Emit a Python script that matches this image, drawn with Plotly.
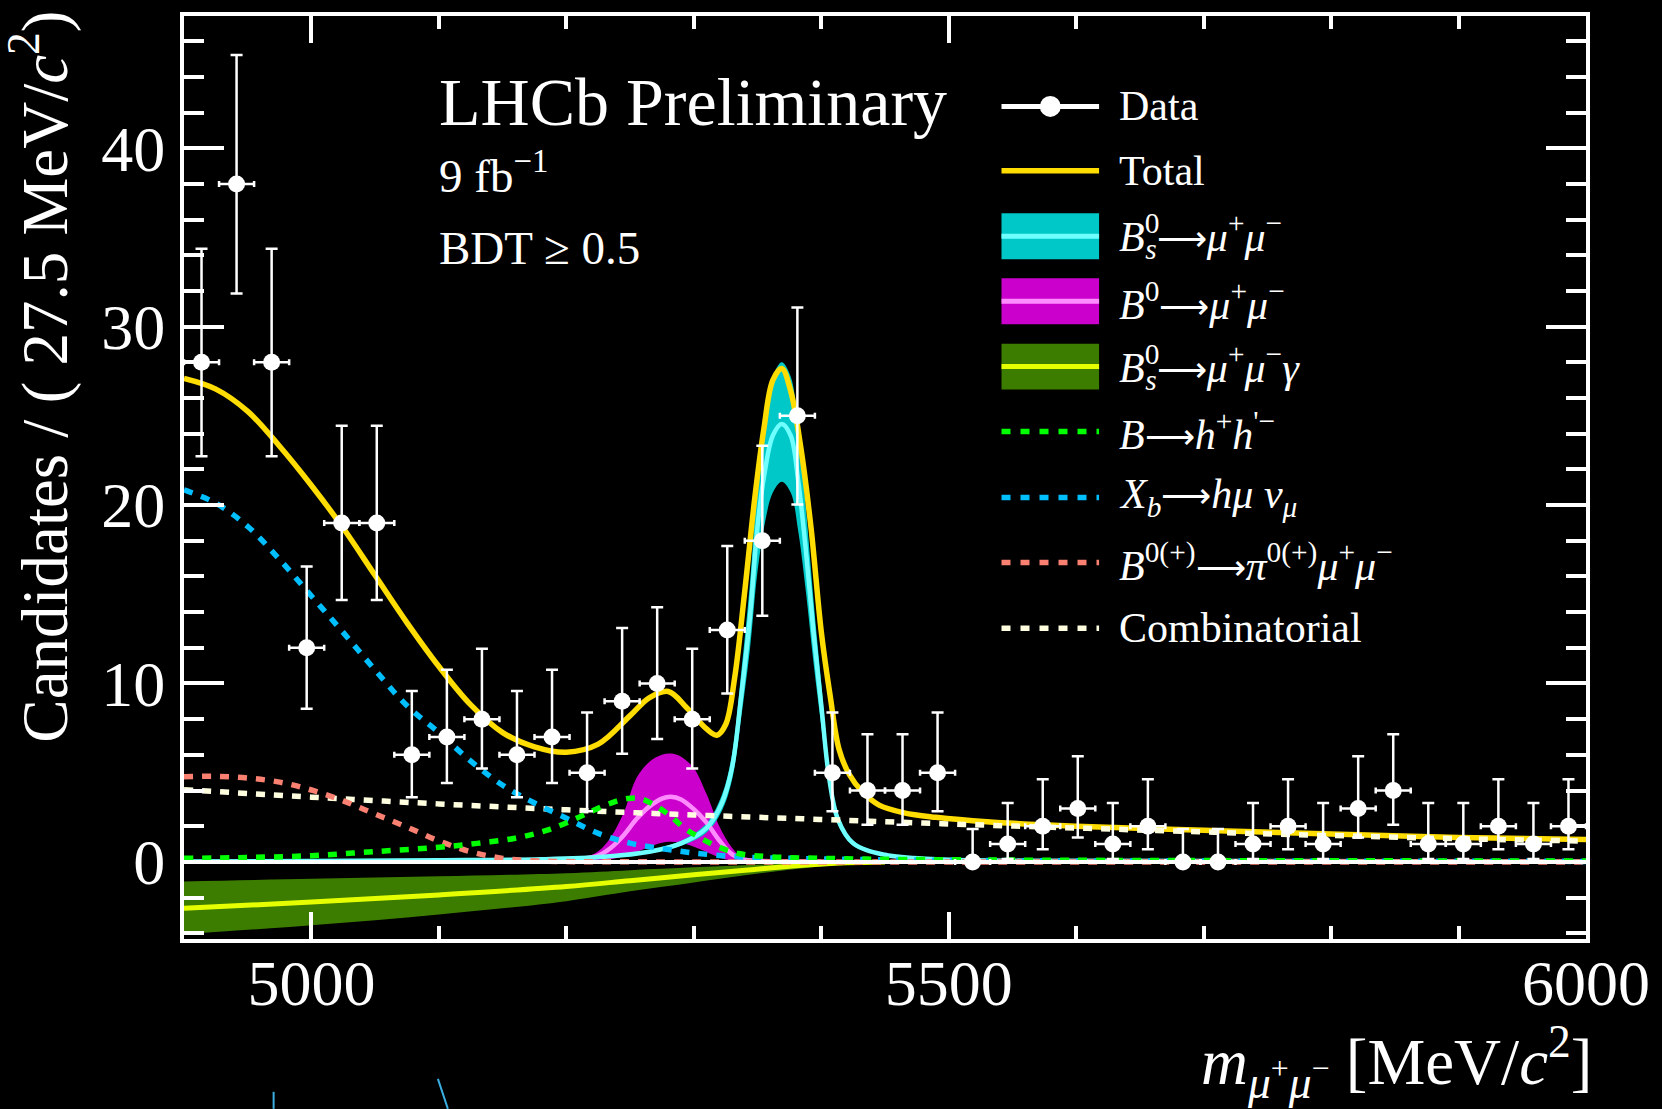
import plotly.graph_objects as go

# ---------------- data ----------------
BIN_LO = 4900.0
BIN_W = 27.5
counts = [28, 38, 28, 12, 19, 19, 6, 7, 8, 6, 7, 5, 9, 10, 8, 13, 18, 25, 5, 4,
          4, 5, 0, 1, 2, 3, 1, 2, 0, 0, 1, 2, 1, 3, 4, 1, 1, 2, 1, 2]
err_hi = [6.36, 7.22, 6.36, 4.56, 5.44, 5.44, 3.58, 3.77, 3.95, 3.58, 3.77, 3.38, 4.11, 4.27,
          3.95, 4.70, 5.32, 6.07, 3.38, 3.16, 3.16, 3.38, 1.84, 2.30, 2.64, 2.92, 2.30, 2.64,
          1.84, 1.84, 2.30, 2.64, 2.30, 2.92, 3.16, 2.30, 2.30, 2.64, 2.30, 2.64]
err_lo = [5.27, 6.14, 5.27, 3.41, 4.32, 4.32, 2.38, 2.58, 2.77, 2.38, 2.58, 2.16, 2.94, 3.11,
          2.77, 3.56, 4.20, 4.97, 2.16, 1.91, 1.91, 2.16, 0.00, 0.83, 1.29, 1.63, 0.83, 1.29,
          0.00, 0.00, 0.83, 1.29, 0.83, 1.63, 1.91, 0.83, 0.83, 1.29, 0.83, 1.29]
centers = [BIN_LO + BIN_W * (i + 0.5) for i in range(len(counts))]

total_x = [4900, 4925, 4950, 4975, 5000, 5025, 5050, 5075, 5100, 5125, 5150, 5175, 5200, 5225,
           5250, 5265, 5280, 5295, 5310, 5318, 5325, 5332, 5340, 5348, 5355, 5362, 5369, 5376,
           5384, 5392, 5400, 5407, 5414, 5422, 5432, 5445, 5465, 5490, 5530, 5600, 5700, 5800,
           5900, 6000]
total_y = [27.1, 26.5, 25.25, 23.3, 21.1, 18.7, 16.05, 13.4, 10.95, 8.8, 7.25, 6.45, 6.15, 6.6,
           8.2, 9.2, 9.55, 8.6, 7.45, 7.1, 7.7, 10.3, 15.2, 20.5, 24.3, 27.0, 27.65, 26.4,
           23.2, 18.7, 12.9, 9.3, 6.3, 4.9, 3.95, 3.2, 2.75, 2.5, 2.25, 2.0, 1.77, 1.56,
           1.37, 1.25]

bs_x = [4900, 5000, 5100, 5180, 5230, 5265, 5290, 5310, 5322, 5330, 5337, 5344, 5350, 5356,
        5362, 5369, 5376, 5382, 5388, 5394, 5400, 5406, 5413, 5425, 5450, 5490, 5600, 6000]
bs_mid = [0.03, 0.05, 0.09, 0.15, 0.29, 0.57, 1.04, 1.9, 3.3, 5.3, 9.2, 13.7, 18.8, 22.0,
          23.9, 24.55, 23.9, 21.3, 17.4, 12.8, 8.8, 4.8, 2.4, 1.05, 0.4, 0.15, 0.06, 0.02]
bs_hi = [0.03, 0.06, 0.1, 0.17, 0.33, 0.65, 1.19, 2.17, 3.76, 6.04, 10.5, 15.6, 21.4, 25.1,
         27.2, 28.0, 27.2, 24.3, 19.8, 14.6, 10.0, 5.5, 2.7, 1.2, 0.46, 0.17, 0.07, 0.02]
bs_lo = [0.03, 0.04, 0.08, 0.13, 0.25, 0.49, 0.9, 1.65, 2.86, 4.6, 8.0, 11.9, 16.3, 19.1,
         20.7, 21.3, 20.7, 18.5, 15.1, 11.1, 7.6, 4.2, 2.1, 0.91, 0.35, 0.13, 0.05, 0.02]

b0_x = [5180, 5200, 5215, 5225, 5235, 5245, 5255, 5265, 5275, 5282, 5290, 5300, 5310, 5320,
        5330, 5340, 5360, 5400]
b0_mid = [0.04, 0.1, 0.2, 0.36, 0.8, 1.5, 2.4, 3.1, 3.55, 3.65, 3.5, 2.95, 2.2, 1.2, 0.42,
          0.12, 0.04, 0.02]
b0_hi = [0.06, 0.15, 0.28, 0.6, 1.4, 2.75, 4.7, 5.6, 6.0, 6.07, 5.9, 5.25, 3.8, 2.0, 0.8,
         0.15, 0.05, 0.02]
b0_lo = [0.0, 0.0, 0.0, 0.05, 0.15, 0.3, 0.55, 0.85, 1.08, 1.13, 1.07, 0.85, 0.55, 0.25, 0.07,
         0.02, 0.0, 0.0]

bsg_x = [4900, 5000, 5100, 5200, 5250, 5300, 5340, 5380, 5420, 5450]
bsg_mid = [-2.6, -2.25, -1.85, -1.38, -1.05, -0.72, -0.47, -0.22, -0.05, 0.0]
bsg_hi = [-1.1, -0.95, -0.8, -0.63, -0.46, -0.3, -0.18, -0.08, -0.02, 0.0]
bsg_lo = [-4.05, -3.55, -2.95, -2.2, -1.65, -1.15, -0.75, -0.4, -0.1, 0.0]

bhh_x = [4900, 4950, 5000, 5050, 5100, 5130, 5160, 5185, 5205, 5220, 5235, 5248, 5258, 5270,
         5282, 5293, 5306, 5319, 5335, 5360, 5400, 5500, 6000]
bhh_y = [0.2, 0.25, 0.35, 0.58, 0.82, 1.04, 1.33, 1.78, 2.35, 2.85, 3.3, 3.55, 3.55, 3.15,
         2.55, 1.87, 1.31, 0.85, 0.47, 0.29, 0.2, 0.12, 0.05]

xb_x = [4900, 4925, 4950, 4975, 5000, 5025, 5050, 5075, 5100, 5125, 5150, 5175, 5200, 5225,
        5250, 5275, 5300, 5335, 5375, 5450, 5600, 6000]
xb_y = [20.85, 20.1, 18.8, 16.95, 14.9, 12.85, 10.75, 8.75, 7.25, 5.65, 4.3, 3.3, 2.45, 1.6,
        1.05, 0.75, 0.5, 0.29, 0.2, 0.12, 0.06, 0.03]

bpi_x = [4900, 4925, 4950, 4975, 5000, 5025, 5050, 5075, 5100, 5125, 5150, 5175, 5200, 5300, 6000]
bpi_y = [4.78, 4.8, 4.7, 4.47, 4.03, 3.42, 2.68, 1.95, 1.17, 0.57, 0.2, 0.06, 0.02, 0.0, 0.0]

comb_x = [4900, 5000, 5100, 5200, 5300, 5400, 5500, 5600, 5700, 5800, 5900, 6000]
comb_y = [4.05, 3.63, 3.25, 2.92, 2.63, 2.38, 2.13, 1.9, 1.68, 1.48, 1.3, 1.17]

x_range = [4900, 6000]
y_range = [-4.32, 47.41]

# ---------------- styles ----------------
FONT = "Liberation Serif"
C_TOTAL = "#FFDD00"
C_BS_BAND, C_BS_LINE = "#00C8C8", "#70FFFF"
C_B0_BAND, C_B0_LINE = "#CC00CC", "#FF8CFF"
C_G_BAND, C_G_LINE = "#3C7D00", "#E6FF00"
C_HH, C_XB, C_PI, C_COMB = "#00FF00", "#00BFFF", "#FA8072", "#FFFFE0"
DASH = "9px,9px"

W, H = 1662, 1109
ML, MR, MT, MB = 184, 70, 15, 170
PW, PH = W - ML - MR, H - MT - MB


def px(x):
    return (x - ML) / PW


def py(y):
    return (H - MB - y) / PH


fig = go.Figure()


def band(xs, lo, hi, color):
    fig.add_trace(go.Scatter(x=xs, y=lo, mode="lines", line=dict(width=0, shape="spline"),
                             showlegend=False, hoverinfo="skip"))
    fig.add_trace(go.Scatter(x=xs, y=hi, mode="lines", line=dict(width=0, shape="spline"),
                             fill="tonexty", fillcolor=color, showlegend=False, hoverinfo="skip"))


def curve(xs, ys, color, width, dash=None):
    fig.add_trace(go.Scatter(x=xs, y=ys, mode="lines",
                             line=dict(color=color, width=width, shape="spline", dash=dash),
                             showlegend=False, hoverinfo="skip"))


band(bsg_x, bsg_lo, bsg_hi, C_G_BAND)
curve(bsg_x, bsg_mid, C_G_LINE, 5)
band(b0_x, b0_lo, b0_hi, C_B0_BAND)
band(bs_x, bs_lo, bs_hi, C_BS_BAND)
curve(b0_x, b0_mid, C_B0_LINE, 4.5)
curve(bs_x, bs_mid, C_BS_LINE, 4.5)
curve(total_x, total_y, C_TOTAL, 5.5)
curve(comb_x, comb_y, C_COMB, 5.5, DASH)
curve(bpi_x, bpi_y, C_PI, 5.5, DASH)
curve(xb_x, xb_y, C_XB, 5.5, DASH)
curve(bhh_x, bhh_y, C_HH, 5.5, DASH)

fig.add_trace(go.Scatter(
    x=centers, y=counts, mode="markers",
    marker=dict(color="white", size=17, line=dict(width=0)),
    error_y=dict(type="data", symmetric=False, array=err_hi, arrayminus=err_lo,
                 color="white", thickness=2.5, width=6),
    error_x=dict(type="constant", value=BIN_W / 2, color="white", thickness=2.5, width=3),
    showlegend=False, hoverinfo="skip"))

shapes = []
# zero line
shapes.append(dict(type="line", xref="paper", yref="y", x0=0, x1=1, y0=0, y1=0,
                   line=dict(color="white", width=4), layer="above"))

# legend swatches
LX0, LX1 = px(1005), px(1103)
rows = {"data": 105.5, "total": 170, "bs": 235.5, "b0": 300.5, "bsg": 366,
        "hh": 431, "xb": 497, "pi": 562, "comb": 628}
shapes.append(dict(type="line", xref="paper", yref="paper", x0=LX0, x1=LX1,
                   y0=py(rows["data"]), y1=py(rows["data"]), line=dict(color="white", width=5)))
shapes.append(dict(type="circle", xref="paper", yref="paper", x0=px(1043.5), x1=px(1064.5),
                   y0=py(rows["data"] + 10.5), y1=py(rows["data"] - 10.5),
                   fillcolor="white", line=dict(width=0)))
shapes.append(dict(type="line", xref="paper", yref="paper", x0=LX0, x1=LX1,
                   y0=py(rows["total"]), y1=py(rows["total"]), line=dict(color=C_TOTAL, width=5.5)))
for key, fc, lc in [("bs", C_BS_BAND, C_BS_LINE), ("b0", C_B0_BAND, C_B0_LINE),
                    ("bsg", C_G_BAND, C_G_LINE)]:
    yc = rows[key]
    shapes.append(dict(type="rect", xref="paper", yref="paper", x0=LX0, x1=LX1,
                       y0=py(yc + 23), y1=py(yc - 23), fillcolor=fc, line=dict(width=0)))
    shapes.append(dict(type="line", xref="paper", yref="paper", x0=LX0, x1=LX1,
                       y0=py(yc), y1=py(yc), line=dict(color=lc, width=5)))
for key, c in [("hh", C_HH), ("xb", C_XB), ("pi", C_PI), ("comb", C_COMB)]:
    yc = rows[key]
    shapes.append(dict(type="line", xref="paper", yref="paper", x0=LX0, x1=LX1,
                       y0=py(yc), y1=py(yc), line=dict(color=c, width=5.5, dash="9px,10px")))

# small cropped strokes at the bottom edge of the picture
shapes.append(dict(type="line", xref="paper", yref="paper", x0=px(274), x1=px(274),
                   y0=py(1092), y1=py(1109), line=dict(color="#3AAEE0", width=2)))
shapes.append(dict(type="line", xref="paper", yref="paper", x0=px(439), x1=px(449),
                   y0=py(1079), y1=py(1109), line=dict(color="#3AAEE0", width=2)))

ann = []


def text(x, y, s, size, xanchor="left", yanchor="middle", angle=0):
    ann.append(dict(xref="paper", yref="paper", x=px(x), y=py(y), text=s, showarrow=False,
                    xanchor=xanchor, yanchor=yanchor, textangle=angle,
                    font=dict(family=FONT, size=size, color="white")))


TX = 1121
LS = 42
ARROW = '<span style="font-size:35px">⟶</span>'
# B_s^0 : superscript 0 with negative letter spacing so the subscript s sits under it
BS0 = ('<i>B</i><sup><span style="letter-spacing:-14px">0</span></sup>'
       '<sub><i>s</i></sub>')
MUMU = "<i>μ</i><sup>+</sup><i>μ</i><sup>−</sup>"
text(TX, rows["data"], "Data", LS)
text(TX, rows["total"], "Total", LS)
text(TX, rows["bs"], f"{BS0}{ARROW}{MUMU}", LS)
text(TX, rows["b0"], f"<i>B</i><sup>0</sup>{ARROW}{MUMU}", LS)
text(TX, rows["bsg"], f"{BS0}{ARROW}{MUMU}<i>γ</i>", LS)
text(TX, rows["hh"], f"<i>B</i>{ARROW}<i>h</i><sup>+</sup><i>h</i><sup>'−</sup>", LS)
text(TX, rows["xb"], f"<i>X</i><sub><i>b</i></sub>{ARROW}<i>hμ</i> <i>ν</i><sub><i>μ</i></sub>", LS)
text(TX, rows["pi"], f"<i>B</i><sup>0(+)</sup>{ARROW}<i>π</i><sup>0(+)</sup>{MUMU}", LS)
text(TX, rows["comb"], "Combinatorial", LS)

text(438, 101, "LHCb Preliminary", 68)
text(438, 172, "9 fb<sup>−1</sup>", 47)
text(438, 247, "BDT ≥ 0.5", 47)

text(38.5, 376, "Candidates / ( 27.5 MeV/<i>c</i><sup>2</sup>)", 65, xanchor="center", angle=-90)
text(1600, 1062, "<i>m</i><sub><i>μ</i><sup>+</sup><i>μ</i><sup>−</sup></sub> [MeV/<i>c</i><sup>2</sup>]", 65,
     xanchor="right")

axis_common = dict(showline=True, linecolor="white", linewidth=4, mirror="ticks",
                   ticks="inside", tickcolor="white", tickwidth=4, showgrid=False,
                   zeroline=False, ticklabeloverflow="allow",
                   tickfont=dict(family=FONT, size=64, color="white"))

fig.update_layout(
    width=W, height=H, margin=dict(l=ML, r=MR, t=MT, b=MB),
    paper_bgcolor="black", plot_bgcolor="black", showlegend=False,
    xaxis=dict(range=x_range, tick0=5000, dtick=500, ticklen=27, ticklabelstandoff=-15,
               minor=dict(dtick=100, ticklen=13, tickwidth=4, tickcolor="white", ticks="inside"),
               **axis_common),
    yaxis=dict(range=y_range, tick0=0, dtick=10, ticklen=40, ticklabelstandoff=2,
               minor=dict(dtick=2, ticklen=20, tickwidth=4, tickcolor="white", ticks="inside"),
               **axis_common),
    shapes=shapes, annotations=ann,
)

fig.write_html("out.html")
